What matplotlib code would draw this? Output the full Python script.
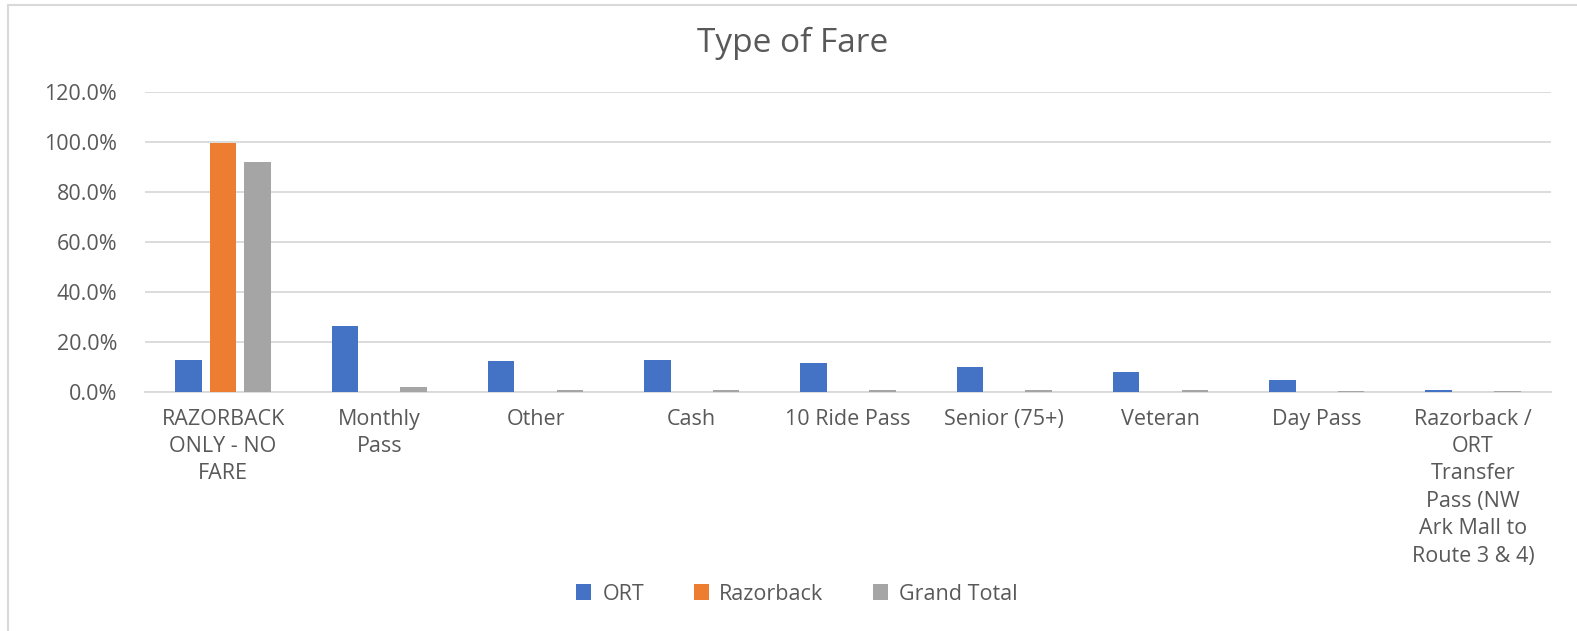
import matplotlib.pyplot as plt
import numpy as np
from matplotlib.ticker import PercentFormatter

# data
categories = ["RAZORBACK\nONLY - NO\nFARE", "Monthly\nPass", "Other", "Cash",
              "10 Ride Pass", "Senior (75+)", "Veteran", "Day Pass",
              "Razorback /\nORT\nTransfer\nPass (NW\nArk Mall to\nRoute 3 & 4)"]
ort = [12.8, 26.4, 12.4, 12.8, 11.8, 10.0, 8.2, 5.0, 0.9]
razorback = [99.6, 0.0, 0.2, 0.0, 0.0, 0.2, 0.2, 0.2, 0.0]
grand_total = [92.0, 2.0, 0.8, 0.8, 0.8, 0.8, 0.8, 0.3, 0.3]
series_names = ["ORT", "Razorback", "Grand Total"]
colors = ["#4472C4", "#ED7D31", "#A5A5A5"]

plt.rcParams['font.family'] = ['Open Sans', 'DejaVu Sans']
text_color = "#595959"

fig = plt.figure(figsize=(15.77, 6.31), dpi=100)
ax = fig.add_axes([145 / 1577, 1 - 392 / 631, 1406 / 1577, 300 / 631])

x = np.arange(len(categories))
width = 0.17
step = 0.22
for i, (vals, name, c) in enumerate(zip([ort, razorback, grand_total], series_names, colors)):
    ax.bar(x + (i - 1) * step, vals, width, color=c, label=name,
           edgecolor="none", zorder=3)

ax.set_xlim(-0.5, len(categories) - 0.5)
ax.set_ylim(0, 120)
ax.set_yticks(np.arange(0, 121, 20))
ax.yaxis.set_major_formatter(PercentFormatter(decimals=1))
ax.grid(axis="y", color="#D9D9D9", linewidth=1.3, zorder=0)
for s in ["top", "right", "left"]:
    ax.spines[s].set_visible(False)
ax.spines["bottom"].set_color("#D9D9D9")
ax.spines["bottom"].set_linewidth(1.3)
ax.tick_params(axis="both", length=0, colors=text_color, labelsize=15.5)
ax.tick_params(axis="y", pad=20)
ax.tick_params(axis="x", pad=12)
ax.set_xticks(x)
ax.set_xticklabels(categories, linespacing=1.4, va="top")

fig.text(793 / 1577, 1 - 43 / 631, "Type of Fare", ha="center", va="center",
         fontsize=24, color=text_color)

fig.legend(loc="center", bbox_to_anchor=(797 / 1577, 1 - 594 / 631), ncol=3,
           frameon=False, fontsize=15.5, labelcolor=text_color,
           handlelength=0.7, handleheight=0.7, handletextpad=0.5, columnspacing=2.3)

# chart area frame (left and top edges visible)
fig.add_artist(plt.Line2D([8 / 1577, 8 / 1577], [0, 1 - 5 / 631], color="#D9D9D9",
                          linewidth=1.5, transform=fig.transFigure))
fig.add_artist(plt.Line2D([8 / 1577, 1], [1 - 5 / 631, 1 - 5 / 631], color="#D9D9D9",
                          linewidth=1.5, transform=fig.transFigure))

fig.savefig("out.png", dpi=100)
